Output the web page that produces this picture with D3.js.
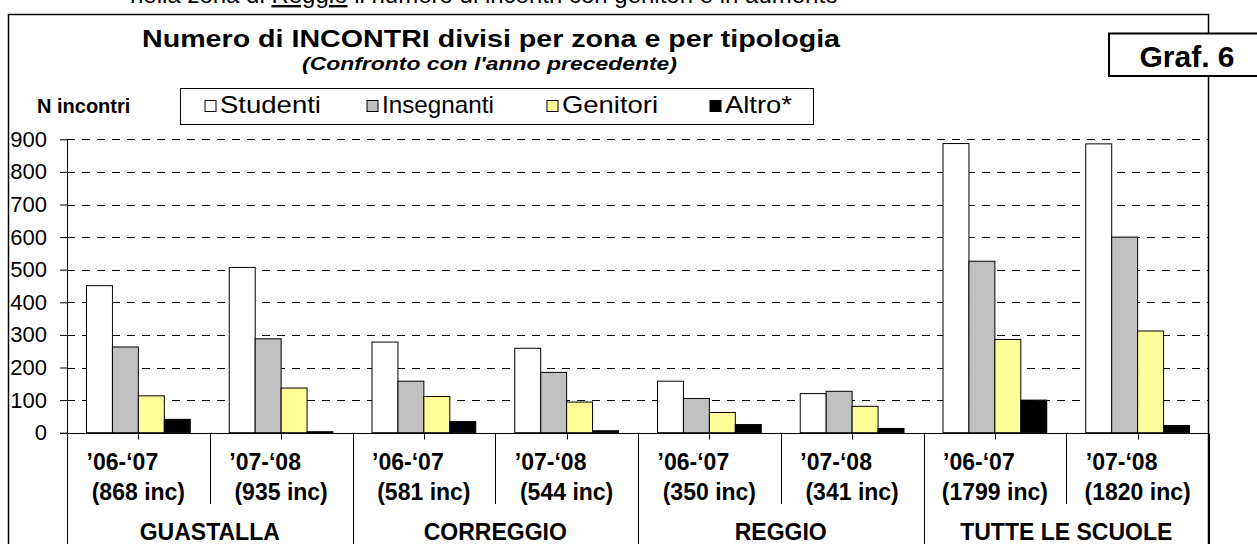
<!DOCTYPE html>
<html>
<head>
<meta charset="utf-8">
<script src="https://cdn.jsdelivr.net/npm/d3@7"></script>
<style>
  html, body { margin: 0; padding: 0; background: #fff; overflow: hidden; }
  text { font-family: "Liberation Sans", Arial, sans-serif; fill: #000; }
</style>
</head>
<body>
<svg id="chart" width="1257" height="544"></svg>
<script>
// data
const zones = ["GUASTALLA", "CORREGGIO", "REGGIO", "TUTTE LE SCUOLE"];
const years = ["’06-‘07", "’07-‘08", "’06-‘07", "’07-‘08", "’06-‘07", "’07-‘08", "’06-‘07", "’07-‘08"];
const totals = ["(868 inc)", "(935 inc)", "(581 inc)", "(544 inc)", "(350 inc)", "(341 inc)", "(1799 inc)", "(1820 inc)"];
const seriesNames = ["Studenti", "Insegnanti", "Genitori", "Altro*"];
const seriesColors = ["#ffffff", "#c0c0c0", "#ffff99", "#000000"];
const studenti = [451, 507, 278, 259, 158, 120, 887, 886];
const insegnanti = [263, 288, 158, 185, 105, 127, 526, 600];
const genitori = [113, 137, 111, 94, 62, 81, 286, 312];
const altro = [41, 3, 34, 6, 25, 13, 100, 22];
const yTicks = [0, 100, 200, 300, 400, 500, 600, 700, 800, 900];

const series = [studenti, insegnanti, genitori, altro];
const catIdx = d3.range(years.length);

const svg = d3.select('#chart');
const W = 1257, H = 544;
const plot = { left: 67, right: 1209, top: 139.3, bottom: 432.7 };

// header text, cut by the top of the page as in the source
const head = svg.append('text')
  .attr('x', 130).attr('y', 3)
  .style('font-size', '24px');
head.append('tspan').text('nella zona di ');
head.append('tspan').style('text-decoration', 'underline').text('Reggio');
head.append('tspan').text(' il numero di incontri con genitori è in aumento');

// outer frame
svg.append('rect')
  .attr('x', 8.5).attr('y', 14.5)
  .attr('width', 1200).attr('height', 560)
  .attr('fill', 'none').attr('stroke', '#000').attr('stroke-width', 1.5);

// titles
svg.append('text')
  .attr('x', 142).attr('y', 47)
  .attr('textLength', 698).attr('lengthAdjust', 'spacingAndGlyphs')
  .style('font-size', '24px').style('font-weight', 'bold')
  .text('Numero di INCONTRI divisi per zona e per tipologia');

svg.append('text')
  .attr('x', 302).attr('y', 70)
  .attr('textLength', 375).attr('lengthAdjust', 'spacingAndGlyphs')
  .style('font-size', '19px').style('font-weight', 'bold').style('font-style', 'italic')
  .text("(Confronto con l'anno precedente)");

// Graf. 6 box
svg.append('rect')
  .attr('x', 1109).attr('y', 33.5).attr('width', 160).attr('height', 42.5)
  .attr('fill', '#fff').attr('stroke', '#000').attr('stroke-width', 2);
svg.append('text')
  .attr('x', 1187).attr('y', 67).attr('text-anchor', 'middle')
  .style('font-size', '30px').style('font-weight', 'bold')
  .text('Graf. 6');

// y label
svg.append('text')
  .attr('x', 37).attr('y', 113)
  .style('font-size', '20px').style('font-weight', 'bold')
  .text('N incontri');

// legend
svg.append('rect')
  .attr('x', 180.5).attr('y', 88.5).attr('width', 633).attr('height', 36)
  .attr('fill', '#fff').attr('stroke', '#000');
const legendX = [205, 367, 547, 710];
const legendLen = [101, 112, 96, 67];
const legend = svg.append('g')
  .selectAll('g')
  .data(seriesNames)
  .enter()
  .append('g')
  .attr('transform', (d, i) => `translate(${legendX[i]}, 100.5)`);
legend.append('rect')
  .attr('width', 11).attr('height', 11)
  .attr('fill', (d, i) => seriesColors[i])
  .attr('stroke', '#000');
legend.append('text')
  .attr('x', 15).attr('y', 12)
  .attr('textLength', (d, i) => legendLen[i]).attr('lengthAdjust', 'spacingAndGlyphs')
  .style('font-size', '24px')
  .text(d => d);

// scales
const x0 = d3.scaleBand()
  .domain(catIdx)
  .range([plot.left, plot.right])
  .padding(0);
const x1 = d3.scaleBand()
  .domain(d3.range(seriesNames.length))
  .range([19.5, x0.bandwidth() - 19.5])
  .padding(0);
const y = d3.scaleLinear()
  .domain([0, 900])
  .range([plot.bottom, plot.top]);

// gridlines
svg.append('g')
  .selectAll('line')
  .data(yTicks.filter(d => d > 0))
  .enter()
  .append('line')
  .attr('x1', plot.left).attr('x2', plot.right)
  .attr('y1', d => Math.round(y(d)) + 0.5).attr('y2', d => Math.round(y(d)) + 0.5)
  .attr('stroke', '#000')
  .attr('stroke-dasharray', '8,7');

// y axis
const yAxis = svg.append('g')
  .attr('transform', `translate(${plot.left}, 0)`)
  .call(d3.axisLeft(y).tickValues(yTicks).tickSize(7).tickPadding(13));
yAxis.select('.domain').remove();
yAxis.selectAll('text').style('font-size', '22px').attr('fill', '#000');
yAxis.selectAll('line').attr('stroke', '#000');

// bars
const groups = svg.append('g')
  .selectAll('g')
  .data(catIdx)
  .enter()
  .append('g')
  .attr('transform', d => `translate(${x0(d)}, 0)`);
groups.selectAll('rect')
  .data(c => series.map((s, k) => ({ k, v: s[c] })))
  .enter()
  .append('rect')
  .attr('x', d => x1(d.k))
  .attr('y', d => y(d.v))
  .attr('width', x1.bandwidth())
  .attr('height', d => y(0) - y(d.v))
  .attr('fill', d => seriesColors[d.k])
  .attr('stroke', '#000')
  .attr('stroke-width', 1);

// axis lines
const axisY = Math.round(y(0)) + 0.5;
svg.append('line')
  .attr('x1', 60).attr('x2', plot.right)
  .attr('y1', axisY).attr('y2', axisY)
  .attr('stroke', '#000');
svg.append('line')
  .attr('x1', plot.left + 0.5).attr('x2', plot.left + 0.5)
  .attr('y1', y(900)).attr('y2', H)
  .attr('stroke', '#000');

// category ticks and separators
svg.append('g')
  .selectAll('line')
  .data(catIdx)
  .enter()
  .append('line')
  .attr('x1', d => Math.round(x0(d) + x0.bandwidth() / 2) + 0.5)
  .attr('x2', d => Math.round(x0(d) + x0.bandwidth() / 2) + 0.5)
  .attr('y1', axisY).attr('y2', axisY + 6)
  .attr('stroke', '#000');
svg.append('g')
  .selectAll('line')
  .data(d3.range(1, years.length + 1))
  .enter()
  .append('line')
  .attr('x1', d => Math.round(plot.left + d * x0.bandwidth()) + 0.5)
  .attr('x2', d => Math.round(plot.left + d * x0.bandwidth()) + 0.5)
  .attr('y1', axisY)
  .attr('y2', d => d % 2 === 0 ? H : 504)
  .attr('stroke', '#000');

// category labels
svg.append('g')
  .selectAll('text')
  .data(catIdx)
  .enter()
  .append('text')
  .attr('x', d => x0(d) + x0.bandwidth() / 2 - 16)
  .attr('y', 470)
  .attr('text-anchor', 'middle')
  .style('font-size', '23px').style('font-weight', 'bold')
  .text(d => years[d]);
svg.append('g')
  .selectAll('text')
  .data(catIdx)
  .enter()
  .append('text')
  .attr('x', d => x0(d) + x0.bandwidth() / 2)
  .attr('y', 500)
  .attr('text-anchor', 'middle')
  .style('font-size', '23px').style('font-weight', 'bold')
  .text(d => totals[d]);
svg.append('g')
  .selectAll('text')
  .data(zones)
  .enter()
  .append('text')
  .attr('x', (d, i) => x0(i * 2) + x0.bandwidth())
  .attr('y', 540)
  .attr('text-anchor', 'middle')
  .style('font-size', '23px').style('font-weight', 'bold')
  .text(d => d);
</script>
</body>
</html>
